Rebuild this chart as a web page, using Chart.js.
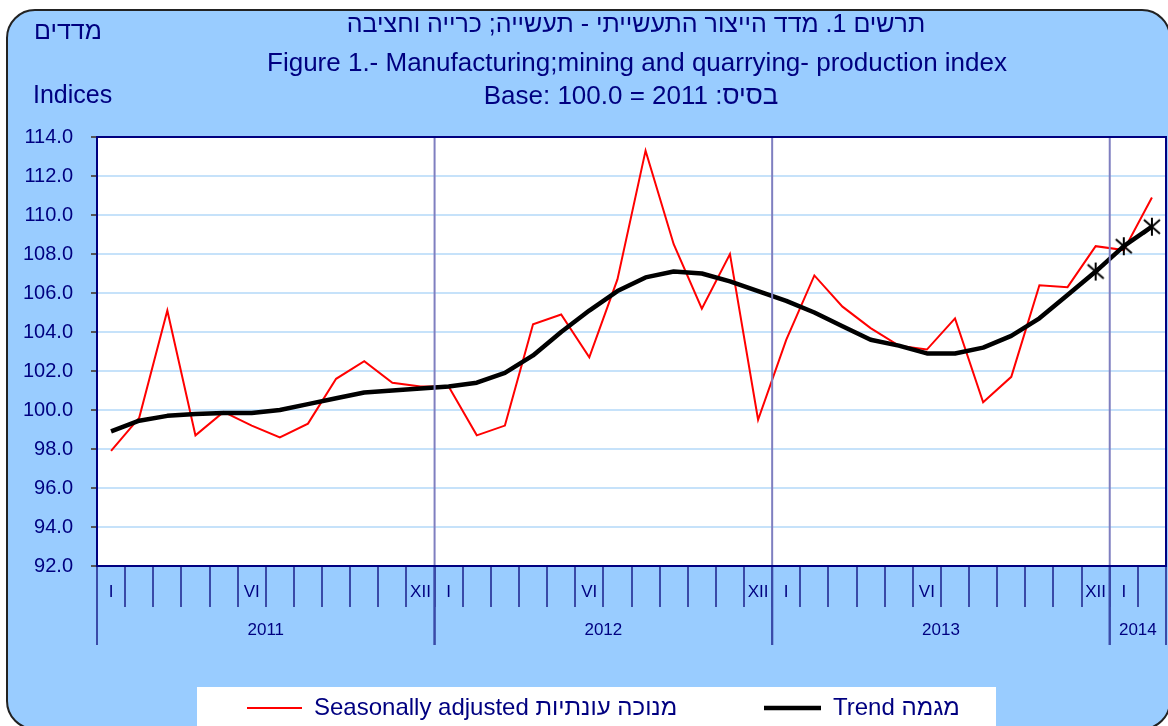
<!DOCTYPE html>
<html>
<head>
<meta charset="utf-8">
<script src="https://cdn.jsdelivr.net/npm/chart.js@4"></script>
<style>
  html, body { margin: 0; padding: 0; background: #ffffff; }
  #wrap { width: 1168px; height: 726px; }
</style>
</head>
<body>
<div id="wrap"><canvas id="chart" width="1168" height="726"></canvas></div>
<script>
// month tick labels, Jan 2011 - Feb 2014
const monthLabels = [
    'I', '', '', '', '', 'VI', '', '', '', '', '', 'XII',
    'I', '', '', '', '', 'VI', '', '', '', '', '', 'XII',
    'I', '', '', '', '', 'VI', '', '', '', '', '', 'XII',
    'I', ''
];
const years = ['2011', '2012', '2013', '2014'];
const monthsInYear = [12, 12, 12, 2];

const seasonal = [
    97.9, 99.6, 105.1, 98.7, 99.9, 99.2, 98.6, 99.3, 101.6, 102.5, 101.4, 101.2,
    101.2, 98.7, 99.2, 104.4, 104.9, 102.7, 106.7, 113.3, 108.5, 105.2, 108.0, 99.5,
    103.6, 106.9, 105.3, 104.2, 103.3, 103.1, 104.7, 100.4, 101.7, 106.4, 106.3, 108.4,
    108.2, 110.9
];
const trend = [
    98.9, 99.45, 99.7, 99.8, 99.85, 99.85, 100.0, 100.3, 100.6, 100.9, 101.0, 101.1,
    101.2, 101.4, 101.9, 102.8, 104.0, 105.1, 106.1, 106.8, 107.1, 107.0, 106.6, 106.1,
    105.6, 105.0, 104.3, 103.6, 103.3, 102.9, 102.9, 103.2, 103.8, 104.7, 105.9, 107.1,
    108.4, 109.4
];
// provisional trend points drawn with a star
const markedPoints = [35, 36, 37];

const navy = '#000080';
const tickBlue = '#3A4AA8';
const font = '"Liberation Sans", Arial, sans-serif';

// star marker: X with a vertical stroke
const star = document.createElement('canvas');
star.width = 20; star.height = 20;
(function () {
    const c = star.getContext('2d');
    c.strokeStyle = '#000';
    c.lineWidth = 2;
    c.beginPath();
    c.moveTo(2, 3); c.lineTo(18, 17);
    c.moveTo(18, 3); c.lineTo(2, 17);
    c.moveTo(10, 1); c.lineTo(10, 19);
    c.stroke();
})();

const decor = {
    id: 'decor',
    beforeDraw(chart) {
        const ctx = chart.ctx;
        const a = chart.chartArea;
        ctx.save();
        ctx.fillStyle = '#ffffff';
        ctx.fillRect(0, 0, chart.width, chart.height);
        // rounded frame
        ctx.beginPath();
        ctx.roundRect(7, 10, 1163, 719, 28);
        ctx.fillStyle = '#99CCFF';
        ctx.fill();
        ctx.lineWidth = 2;
        ctx.strokeStyle = '#222';
        ctx.stroke();
        ctx.fillStyle = '#ffffff';
        ctx.fillRect(a.left, a.top, a.right - a.left, a.bottom - a.top);

        // titles
        ctx.fillStyle = navy;
        ctx.textBaseline = 'middle';
        ctx.textAlign = 'center';
        ctx.font = '25px ' + font;
        ctx.direction = 'rtl';
        ctx.fillText('תרשים 1. מדד הייצור התעשייתי - תעשייה; כרייה וחציבה', 636, 25);
        ctx.direction = 'ltr';
        ctx.font = '26px ' + font;
        ctx.fillText('Figure 1.- Manufacturing;mining and quarrying- production index', 637, 64);
        ctx.fillText('Base: 100.0 = 2011 :בסיס', 631, 97);
        ctx.textAlign = 'left';
        ctx.font = '25px ' + font;
        ctx.fillText('מדדים', 34, 32);
        ctx.fillText('Indices', 33, 96);
        ctx.restore();
    },
    afterDatasetsDraw(chart) {
        const ctx = chart.ctx;
        const a = chart.chartArea;
        const x = chart.scales.x;
        ctx.save();
        // year separators and year labels
        let start = 0;
        ctx.fillStyle = navy;
        ctx.font = '17px ' + font;
        ctx.textAlign = 'center';
        ctx.textBaseline = 'middle';
        const edge = i => i <= 0 ? a.left : (i >= monthLabels.length ? a.right
            : (x.getPixelForValue(i - 1) + x.getPixelForValue(i)) / 2);
        for (let k = 0; k < years.length; k++) {
            const x0 = edge(start), x1 = edge(start + monthsInYear[k]);
            if (start > 0) {
                ctx.strokeStyle = '#7F7FC0';
                ctx.lineWidth = 2;
                ctx.beginPath();
                ctx.moveTo(x0, a.top);
                ctx.lineTo(x0, a.bottom);
                ctx.stroke();
            }
            ctx.strokeStyle = tickBlue;
            ctx.lineWidth = 2;
            ctx.beginPath();
            ctx.moveTo(x0, a.bottom);
            ctx.lineTo(x0, 645);
            ctx.moveTo(x1, a.bottom);
            ctx.lineTo(x1, 645);
            ctx.stroke();
            ctx.fillText(years[k], (x0 + x1) / 2, 630);
            start += monthsInYear[k];
        }
        // plot frame
        ctx.strokeStyle = navy;
        ctx.lineWidth = 2;
        ctx.strokeRect(a.left, a.top, a.right - a.left, a.bottom - a.top);

        // legend
        ctx.fillStyle = '#ffffff';
        ctx.fillRect(197, 687, 799, 45);
        const ds = chart.data.datasets;
        const items = [
            { d: ds[1], x0: 247, x1: 302, tx: 314 },
            { d: ds[0], x0: 764, x1: 821, tx: 833 }
        ];
        ctx.font = '24px ' + font;
        ctx.textAlign = 'left';
        items.forEach(it => {
            ctx.strokeStyle = it.d.borderColor;
            ctx.lineWidth = it.d.borderWidth;
            ctx.beginPath();
            ctx.moveTo(it.x0, 708);
            ctx.lineTo(it.x1, 708);
            ctx.stroke();
            ctx.fillStyle = navy;
            ctx.fillText(it.d.label, it.tx, 708);
        });
        ctx.restore();
    }
};

new Chart(document.getElementById('chart').getContext('2d'), {
    type: 'line',
    data: {
        labels: monthLabels,
        datasets: [
            {
                label: 'Trend מגמה',
                data: trend,
                borderColor: '#000000',
                borderWidth: 4.5,
                borderJoinStyle: 'round',
                pointStyle: star,
                pointRadius: c => markedPoints.includes(c.dataIndex) ? 8 : 0,
                order: 1
            },
            {
                label: 'Seasonally adjusted מנוכה עונתיות',
                data: seasonal,
                borderColor: '#FF0000',
                borderWidth: 2,
                pointRadius: 0,
                order: 2
            }
        ]
    },
    options: {
        responsive: false,
        animation: false,
        layout: { autoPadding: false, padding: { left: 0, top: 137, right: 2, bottom: 0 } },
        plugins: {
            legend: { display: false },
            tooltip: { enabled: false }
        },
        scales: {
            x: {
                offset: true,
                afterFit: s => { s.height = 160; },
                grid: {
                    offset: true,
                    drawOnChartArea: false,
                    tickLength: 41,
                    color: tickBlue,
                    lineWidth: 2
                },
                border: { color: navy, width: 2 },
                ticks: {
                    autoSkip: false,
                    maxRotation: 0,
                    minRotation: 0,
                    padding: -25,
                    color: navy,
                    font: { family: font, size: 17 }
                }
            },
            y: {
                min: 92,
                max: 114,
                afterFit: s => { s.width = 97; },
                grid: {
                    color: '#C6E2FA',
                    lineWidth: 2,
                    tickColor: '#555555',
                    tickLength: 6
                },
                border: { color: navy, width: 2 },
                ticks: {
                    stepSize: 2,
                    padding: 18,
                    color: navy,
                    font: { family: font, size: 20 },
                    callback: v => v.toFixed(1)
                }
            }
        }
    },
    plugins: [decor]
});
</script>
</body>
</html>
